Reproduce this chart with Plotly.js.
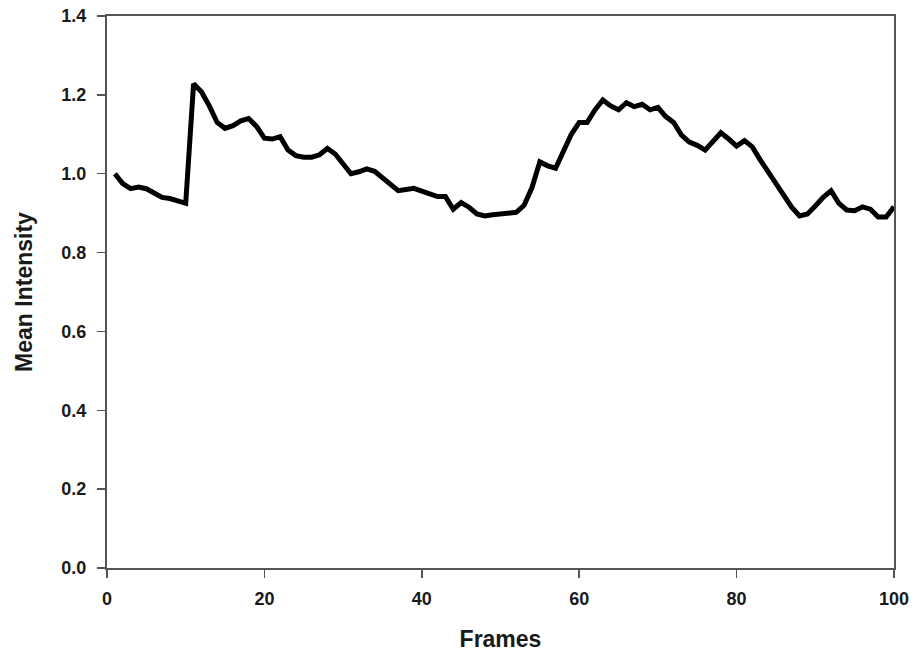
<!DOCTYPE html>
<html>
<head>
<meta charset="utf-8">
<script src="https://cdn.plot.ly/plotly-3.0.1.min.js"></script>
<style>html,body{margin:0;padding:0;background:#fff;}#chart{width:916px;height:659px;}</style>
</head>
<body>
<div id="chart"></div>
<script>
const frames = [];
for (let i = 1; i <= 100; i++) frames.push(i);
const meanIntensity = [
  1.000, 0.975, 0.962, 0.966, 0.962, 0.952, 0.940, 0.937, 0.932, 0.925,
  1.228, 1.208, 1.172, 1.130, 1.115, 1.122, 1.134, 1.140, 1.120, 1.090,
  1.088, 1.094, 1.060, 1.046, 1.042, 1.042, 1.048, 1.064, 1.050, 1.025,
  1.000, 1.005, 1.012, 1.006, 0.990, 0.970, 0.957, 0.960, 0.963, 0.956,
  0.948, 0.942, 0.942, 0.910, 0.927, 0.915, 0.898, 0.893, 0.896, 0.898,
  0.898, 0.902, 0.920, 0.965, 1.030, 1.020, 1.014, 1.055, 1.100, 1.130,
  1.130, 1.162, 1.187, 1.172, 1.162, 1.180, 1.170, 1.176, 1.162, 1.168,
  1.145, 1.130, 1.098, 1.080, 1.072, 1.060, 1.081, 1.104, 1.088, 1.070,
  1.084, 1.068, 1.035, 1.005, 0.975, 0.948, 0.915, 0.893, 0.898, 0.918,
  0.940, 0.957, 0.925, 0.908, 0.906, 0.916, 0.910, 0.890, 0.890, 0.916
];
const xTickVals = [0, 20, 40, 60, 80, 100];
const yTickVals = [0.0, 0.2, 0.4, 0.6, 0.8, 1.0, 1.2, 1.4];
const xTitle = 'Frames';
const yTitle = 'Mean Intensity';

const fontFam = 'Arial, "Liberation Sans", Helvetica, sans-serif';
const trace = {
  x: frames, y: meanIntensity, type: 'scatter', mode: 'lines',
  line: {color: '#000', width: 5}, hoverinfo: 'skip'
};
const axisCommon = {
  showgrid: false, zeroline: false, showline: true, mirror: true,
  linecolor: '#555', linewidth: 2, ticks: 'outside', ticklen: 8,
  tickwidth: 1.5, tickcolor: '#555',
  tickfont: {family: fontFam, size: 18, color: '#1a1a1a', weight: 'bold'}
};
const layout = {
  width: 916, height: 659,
  margin: {l: 107, r: 22, t: 16, b: 91},
  paper_bgcolor: '#fff', plot_bgcolor: '#fff',
  showlegend: false,
  xaxis: Object.assign({}, axisCommon, {
    range: [0, 100], tickvals: xTickVals, ticktext: xTickVals.map(String),
    ticklabelstandoff: 5,
    title: {text: xTitle, standoff: 23, font: {family: fontFam, size: 23, color: '#1a1a1a', weight: 'bold'}}
  }),
  yaxis: Object.assign({}, axisCommon, {
    range: [0, 1.4], tickvals: yTickVals, ticktext: yTickVals.map(v => v.toFixed(1)),
    ticklabelstandoff: 7,
    title: {text: yTitle, standoff: 22, font: {family: fontFam, size: 23, color: '#1a1a1a', weight: 'bold'}}
  })
};
Plotly.newPlot('chart', [trace], layout, {displayModeBar: false, staticPlot: true});
</script>
</body>
</html>
